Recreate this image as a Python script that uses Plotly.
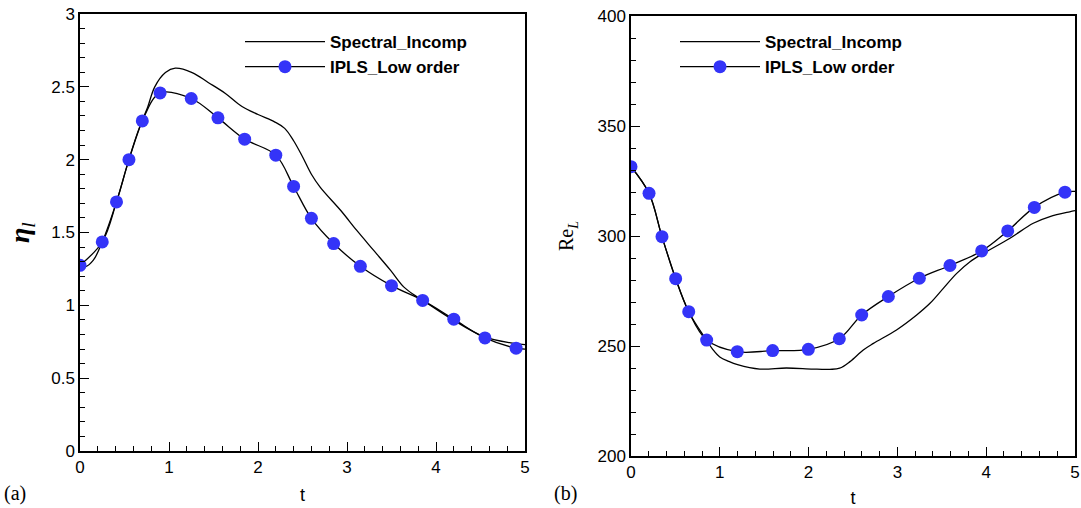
import plotly.graph_objects as go

# ---- Panel (a): eta_l vs t ----
spec_eta_t = [0, 0.06, 0.15, 0.25, 0.41, 0.55, 0.70, 0.76, 0.84, 0.96, 1.07, 1.26, 1.44, 1.63, 1.82, 2.0,
              2.19, 2.30, 2.40, 2.50, 2.60, 2.70, 2.93, 3.11, 3.30, 3.49, 3.64, 3.79, 3.85, 4.16, 4.54, 4.84, 5.0]
spec_eta = [1.275, 1.265, 1.31, 1.435, 1.71, 2.0, 2.27, 2.36, 2.50, 2.598, 2.628, 2.598, 2.53, 2.456, 2.365, 2.31,
            2.258, 2.215, 2.13, 2.02, 1.90, 1.81, 1.651, 1.514, 1.377, 1.24, 1.125, 1.057, 1.035, 0.912, 0.785, 0.742, 0.73]

ipls_eta_t = [0, 0.25, 0.41, 0.55, 0.70, 0.90, 1.25, 1.55, 1.85, 2.20, 2.40, 2.60, 2.85, 3.15, 3.50, 3.85, 4.20, 4.55, 4.90]
ipls_eta = [1.275, 1.435, 1.71, 2.0, 2.266, 2.458, 2.42, 2.287, 2.141, 2.031, 1.816, 1.597, 1.424, 1.268, 1.135, 1.034, 0.905, 0.776, 0.706]
ipls_eta_end_t = [5.0]
ipls_eta_end = [0.70]

# ---- Panel (b): Re_L vs t ----
spec_re_t = [0, 0.203, 0.349, 0.503, 0.65, 0.85, 0.92, 1.0, 1.1, 1.2, 1.45, 1.75, 2.05, 2.24, 2.35, 2.466, 2.616, 2.73,
             2.99, 3.217, 3.367, 3.517, 3.668, 3.818, 3.968, 4.268, 4.53, 4.718, 4.94, 5.0]
spec_re = [331.5, 319.4, 299.7, 280.6, 265.6, 252.7, 248.5, 245.0, 243.0, 241.5, 239.5, 240.0, 239.5, 239.4, 239.9, 242.9, 248.2, 251.2,
           257.3, 264.1, 269.4, 276.2, 283.0, 288.3, 292.1, 299.0, 305.8, 308.8, 311.0, 311.5]

ipls_re_t = [0, 0.203, 0.349, 0.503, 0.65, 0.852, 1.197, 1.595, 1.997, 2.346, 2.598, 2.898, 3.247, 3.592, 3.949, 4.242, 4.542, 4.887]
ipls_re = [331.5, 319.4, 299.7, 280.6, 265.6, 252.7, 247.4, 247.9, 248.5, 253.3, 264.1, 272.5, 280.8, 286.6, 293.2, 302.3, 313.0, 319.9]
ipls_re_end_t = [5.0]
ipls_re_end = [320.3]

series_names = ["Spectral_Incomp", "IPLS_Low order"]

BLUE = "#3434F8"
LW = 1.3
MS = 13

fig = go.Figure()


def add_panel(xa, ya, leg, st, sy, it, iy, et, ey):
    fig.add_trace(go.Scatter(x=st, y=sy, mode="lines", line=dict(color="black", width=LW, shape="spline"),
                             name=series_names[0], xaxis=xa, yaxis=ya, legend=leg, showlegend=True))
    fig.add_trace(go.Scatter(x=list(it) + list(et), y=list(iy) + list(ey), mode="lines",
                             line=dict(color="black", width=LW, shape="spline"),
                             xaxis=xa, yaxis=ya, showlegend=False, hoverinfo="skip"))
    fig.add_trace(go.Scatter(x=it, y=iy, mode="markers", marker=dict(color=BLUE, size=MS),
                             xaxis=xa, yaxis=ya, showlegend=False))
    fig.add_trace(go.Scatter(x=[None], y=[None], mode="lines+markers",
                             line=dict(color="black", width=LW), marker=dict(color=BLUE, size=MS),
                             name=series_names[1], xaxis=xa, yaxis=ya, legend=leg, showlegend=True))


add_panel("x", "y", "legend", spec_eta_t, spec_eta, ipls_eta_t, ipls_eta, ipls_eta_end_t, ipls_eta_end)
add_panel("x2", "y2", "legend2", spec_re_t, spec_re, ipls_re_t, ipls_re, ipls_re_end_t, ipls_re_end)

W, H = 1081, 508
tickfont = dict(family="Liberation Sans, Arial, sans-serif", size=17, color="black")

common_axis = dict(showline=True, linecolor="black", linewidth=1.5, mirror=True, ticks="inside",
                   ticklen=9, tickwidth=1.2, tickcolor="black", showgrid=False, zeroline=False,
                   tickfont=tickfont, automargin=False)
minor_style = dict(ticks="inside", ticklen=5, tickwidth=1, tickcolor="black")
legfont = dict(family="Liberation Sans, Arial", size=17, color="black", weight="bold")
serif = "Liberation Serif, Times New Roman, serif"

fig.update_layout(
    width=W, height=H, margin=dict(l=0, r=0, t=0, b=0, autoexpand=False),
    paper_bgcolor="white", plot_bgcolor="white",
    xaxis=dict(domain=[80 / W, 525 / W], anchor="y", range=[0, 5], dtick=1,
               minor=dict(dtick=0.2, **minor_style),
               title=dict(text="t", font=dict(family="Liberation Sans, Arial", size=18, color="black"), standoff=12),
               **common_axis),
    yaxis=dict(domain=[1 - 451 / H, 1 - 14 / H], anchor="x", range=[0, 3], dtick=0.5,
               minor=dict(dtick=0.1, **minor_style),
               **common_axis),
    xaxis2=dict(domain=[631 / W, 1075 / W], anchor="y2", range=[0, 5], dtick=1,
                minor=dict(dtick=0.2, **minor_style),
                title=dict(text="t", font=dict(family="Liberation Sans, Arial", size=18, color="black"), standoff=12),
                **common_axis),
    yaxis2=dict(domain=[1 - 456 / H, 1 - 16 / H], anchor="x2", range=[200, 400], dtick=50,
                minor=dict(dtick=10, **minor_style),
                title=dict(text="Re<sub><i>L</i></sub>",
                           font=dict(family=serif, size=20, color="black"),
                           standoff=18),
                **common_axis),
    legend=dict(x=240 / W, y=1 - 24 / H, xanchor="left", yanchor="top", bgcolor="rgba(0,0,0,0)",
                font=legfont, itemwidth=80, tracegroupgap=0),
    legend2=dict(x=675 / W, y=1 - 24 / H, xanchor="left", yanchor="top", bgcolor="rgba(0,0,0,0)",
                 font=legfont, itemwidth=80, tracegroupgap=0),
    showlegend=True,
    annotations=[
        dict(text="<b><i>η</i></b><sub><i>l</i></sub>", x=21 / W, y=1 - 233 / H, xref="paper", yref="paper",
             xanchor="center", yanchor="middle", textangle=-90, showarrow=False,
             font=dict(family=serif, size=28, color="black")),
        dict(text="(a)", x=2 / W, y=1 - 493 / H, xref="paper", yref="paper", xanchor="left", yanchor="middle",
             showarrow=False, font=dict(family=serif, size=20, color="black")),
        dict(text="(b)", x=552 / W, y=1 - 493 / H, xref="paper", yref="paper", xanchor="left", yanchor="middle",
             showarrow=False, font=dict(family=serif, size=20, color="black")),
    ],
)

fig.write_html("out.html")
